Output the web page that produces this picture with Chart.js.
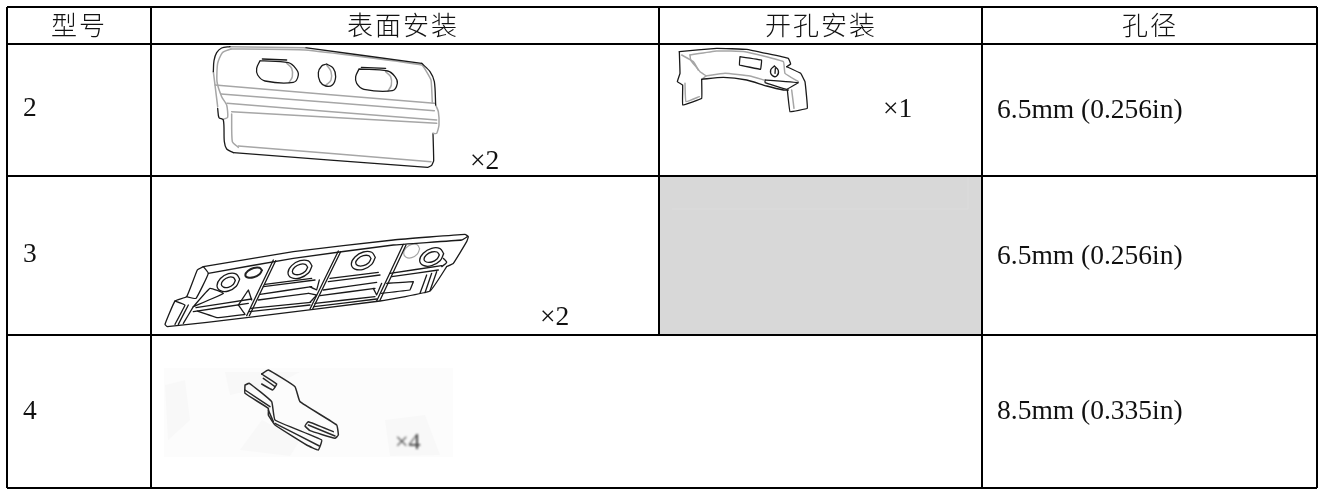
<!DOCTYPE html>
<html><head><meta charset="utf-8">
<style>html,body{margin:0;padding:0;background:#fff}canvas{display:block}</style>
<script src="https://cdn.jsdelivr.net/npm/chart.js@4/dist/chart.umd.min.js"></script>
</head><body><canvas id="c" width="1324" height="489"></canvas>
<script>
const headers = ["型号","表面安装","开孔安装","孔径"];
const models = ["2","3","4"];
const holes = ["6.5mm (0.256in)","6.5mm (0.256in)","8.5mm (0.335in)"];
const qtyLabels = ["×2","×1","×2"];
const blurQty = "×4";
const colEdges = [7,151,982,1317];
const mergedCol = 659;
const rowEdges = [7,44,176,335,488];
const greyCell = [[660,177],[981,177],[981,334],[660,334],[660,177]];
const greyGhost = [[672,209],[968,209],[968,177]];
const hazeBox = [[164,368],[453,368],[453,457],[164,457],[164,368]];
const hazeSpots = [
 [[225,372],[300,372],[275,385],[230,395],[225,372]],
 [[262,420],[300,440],[290,456],[240,450],[262,420]],
 [[385,420],[425,415],[440,455],[390,456],[385,420]],
 [[165,385],[185,380],[190,420],[168,440],[165,385]]
];
const D="#1a1a1a", G="#a6a6a6";
const DARK="dark", GREY="grey";

// part drawings, in crop units (1/3 page px) relative to an origin
const part2Origin=[205,40];
const part2=[
 [DARK,.3,[[75,20],[50,24],[35,38],[27,62],[25,95]]],
 [GREY,.1,[[75,20],[300,23]]],
 [DARK,.1,[[300,23],[650,70]]],
 [DARK,.3,[[650,70],[675,95],[688,125],[692,195]]],
 [GREY,.2,[[692,195],[700,215],[702,255],[695,280],[684,280]]],
 [DARK,.1,[[684,280],[686,362],[680,376],[668,382],[85,338]]],
 [DARK,.3,[[85,338],[65,327],[58,305],[55,240],[42,233],[38,205]]],
 [GREY,.2,[[25,95],[30,135],[38,200]]],
 [GREY,.2,[[78,27],[52,38],[38,70],[36,125],[50,170],[65,195],[68,232],[55,238]]],
 [GREY,.1,[[78,27],[300,30],[650,75],[678,120],[682,190]]],
 [GREY,.1,[[30,135],[688,190]]],
 [GREY,.1,[[48,162],[688,212]]],
 [GREY,.1,[[66,190],[695,240]]],
 [GREY,.1,[[80,215],[695,250]]],
 [GREY,.2,[[80,222],[82,305],[100,322]]],
 [GREY,.1,[[100,318],[678,365]]],
 [DARK,.35,[[165,62],[250,68],[272,85],[280,105],[265,127],[180,123],[158,105],[155,85],[165,62]]],
 [GREY,.35,[[245,70],[260,85],[262,110],[252,128]]],
 [DARK,.1,[[172,57],[245,60]]],
 [DARK,.35,[[462,87],[548,93],[570,110],[577,130],[562,152],[477,148],[455,130],[452,110],[462,87]]],
 [GREY,.35,[[542,95],[557,110],[559,135],[549,153]]],
 [DARK,.1,[[469,82],[542,85]]],
 [DARK,.45,[[365,72],[385,85],[392,110],[382,135],[362,138],[345,125],[340,98],[350,78],[365,72]]],
 [GREY,.45,[[365,75],[378,95],[378,120],[362,136]]]
];
const part1Origin=[670,40];
const part1=[
 [DARK,.05,[[28,35],[140,25],[230,28],[355,55],[362,72],[350,80]]],
 [DARK,.05,[[28,35],[30,100],[22,125],[38,135],[38,195],[95,175],[95,118]]],
 [DARK,.2,[[95,118],[160,112],[230,120],[290,138],[340,150],[355,150]]],
 [DARK,.05,[[352,150],[360,215],[412,205],[405,125],[392,100],[350,80]]],
 [GREY,.1,[[60,45],[140,33],[225,35],[340,65],[345,100],[385,125]]],
 [GREY,.1,[[60,45],[62,60],[90,95],[108,108],[95,118]]],
 [GREY,.1,[[35,45],[70,65],[85,90]]],
 [GREY,.1,[[45,130],[48,185],[88,170]]],
 [GREY,.1,[[108,108],[165,100],[240,108],[282,120]]],
 [DARK,.02,[[210,50],[275,60],[272,88],[208,75],[210,50]]],
 [DARK,.02,[[285,120],[385,128],[350,148],[285,128],[285,120]]],
 [DARK,.45,[[313,78],[325,92],[320,108],[306,106],[302,90],[313,78]]],
 [DARK,.1,[[316,85],[315,100]]],
 [GREY,.05,[[365,150],[372,205]]]
];
const part3Origin=[160,225];
const part3=[
 [DARK,.1,[[130,125],[400,80],[700,45],[915,28],[925,35],[920,50],[880,115],[860,125]]],
 [DARK,.1,[[130,125],[112,135],[80,215],[45,228],[15,298],[22,305],[260,278],[660,228],[810,198],[860,125]]],
 [DARK,.1,[[145,145],[400,100],[700,60],[905,45],[922,35]]],
 [DARK,.1,[[130,125],[145,145],[108,220],[80,215]]],
 [DARK,.05,[[45,228],[75,240],[45,298]]],
 [DARK,.05,[[85,240],[55,298]]],
 [DARK,.05,[[100,245],[70,295]]],
 [DARK,.02,[[340,105],[260,272]]],[DARK,.02,[[347,107],[268,272]]],
 [DARK,.02,[[535,78],[450,252]]],[DARK,.02,[[542,80],[458,252]]],
 [DARK,.02,[[730,58],[650,228]]],[DARK,.02,[[738,60],[660,226]]],
 [DARK,.1,[[100,245],[190,205],[150,190],[100,245]]],
 [DARK,.02,[[100,260],[265,235]]],
 [DARK,.02,[[108,248],[275,222]]],
 [DARK,.02,[[112,258],[172,278],[255,268],[235,240]]],
 [DARK,.02,[[235,240],[265,195],[275,225]]],
 [DARK,.02,[[310,185],[465,165]]],[DARK,.02,[[315,178],[455,160]]],
 [DARK,.02,[[300,208],[455,185]]],[DARK,.02,[[295,225],[445,205]]],
 [DARK,.02,[[272,250],[452,232]]],[DARK,.02,[[268,260],[450,240]]],
 [DARK,.02,[[505,170],[660,150]]],[DARK,.02,[[510,160],[655,142]]],
 [DARK,.02,[[490,195],[650,172]]],[DARK,.02,[[480,212],[645,190]]],
 [DARK,.02,[[465,235],[645,215]]],[DARK,.02,[[462,245],[650,222]]],
 [DARK,.02,[[450,185],[470,195],[478,165]]],
 [DARK,.02,[[450,232],[470,210],[445,205]]],
 [DARK,.02,[[640,190],[650,210],[665,175]]],
 [DARK,.02,[[665,205],[750,195],[760,170],[680,175]]],
 [DARK,.02,[[690,145],[845,122]]],[DARK,.02,[[695,155],[835,135]]],
 [DARK,.02,[[800,150],[780,205]]],[DARK,.02,[[815,145],[795,203]]],[DARK,.02,[[830,140],[810,197]]],
 [DARK,.2,[[850,100],[860,112],[845,125]]]
];
const part3Rings=[[205,172,34,26],[205,172,21,15],[420,133,36,26],[420,133,23,15],[610,107,36,26],[610,107,23,15],[815,96,36,26],[815,96,23,15]];
const part3Small=[[281,143,25,14],[755,78,24,20]];
const part4Origin=[160,360];
const part4=[
 [[305,42],[325,30],[405,80],[420,125],[530,195],[535,225],[525,235],[450,212],[435,198],[445,185],[520,215]],
 [[255,75],[268,70],[335,125],[345,180],[485,240],[475,270],[440,255],[345,195],[325,165],[325,145],[255,100],[255,75]],
 [[305,42],[350,72],[338,90],[305,72]],
 [[255,90],[330,140]],
 [[310,55],[345,80]],
 [[445,195],[525,228]],
 [[345,190],[478,258]],
 [[325,150],[340,185]]
];
const ringOffsets=[[1,0],[.7,.7],[0,1],[-.7,.7],[-1,0],[-.7,-.7],[0,-1],[.7,-.7],[1,0]];
const ringTilt=-.28;

const toPage=(o,pts)=>pts.map(([x,y])=>({x:o[0]+x/3,y:o[1]+y/3}));
const toXY=pts=>pts.map(([x,y])=>({x,y}));
const styles={[DARK]:{c:D,w:1.3},[GREY]:{c:G,w:1.5}};
const datasets=[];
function line(points,color,width,tension,order){
  datasets.push({data:points,showLine:true,borderColor:color,borderWidth:width,tension:tension||0,pointRadius:0,fill:false,clip:false,order:order||1,borderJoinStyle:'round',borderCapStyle:'round'});
}
function area(points,color,order){
  datasets.push({data:points,showLine:true,borderWidth:0,borderColor:'transparent',backgroundColor:color,pointRadius:0,fill:'shape',clip:false,order});
}
area(toXY(greyCell),'#d8d8d8',10);
line(toXY(greyGhost),'#dcdcdc',1,0,9);
area(toXY(hazeBox),'#fcfcfc',10);
hazeSpots.forEach(s=>area(toXY(s),'#f8f8f8',9));
line([{x:mergedCol,y:rowEdges[0]},{x:mergedCol,y:rowEdges[3]}],'#000',2,0,0);
[[part2Origin,part2],[part1Origin,part1],[part3Origin,part3]].forEach(([o,p])=>p.forEach(([k,t,pts])=>line(toPage(o,pts),styles[k].c,styles[k].w,t)));
const ringPts=([cx,cy,rx,ry])=>ringOffsets.map(([a,b])=>[cx+a*rx,cy+b*ry+a*rx*ringTilt]);
part3Rings.forEach(r=>line(toPage(part3Origin,ringPts(r)),D,1.3,.4));
line(toPage(part3Origin,ringPts(part3Small[0])),'#222',2,.4);
line(toPage(part3Origin,ringPts(part3Small[1])),G,1.2,.4);
part4.forEach(p=>line(toPage(part4Origin,p),'#2a2a2a',1.5,.1));

const SERIF='"Liberation Serif"', CJK='"Noto Sans CJK SC"';
const textPlugin={id:'cellText',afterDatasetsDraw(ch){
  const {ctx,scales:{x,y}}=ch;
  const put=(s,px,py,font,align,color,ls)=>{ctx.save();ctx.font=font;ctx.textAlign=align||'left';ctx.textBaseline='middle';ctx.fillStyle=color||'#000';ctx.letterSpacing=ls||'0px';ctx.fillText(s,x.getPixelForValue(px),y.getPixelForValue(py));ctx.restore();};
  const headX=[79,403,821,1150];
  headers.forEach((h,i)=>put(h,headX[i],25,'300 26px '+CJK,'center','#111','2px'));
  const modelY=[109,255,412], holeY=[111,257,412];
  models.forEach((m,i)=>put(m,23,modelY[i],'27.5px '+SERIF,'left','#111'));
  holes.forEach((m,i)=>put(m,997,holeY[i],'27.5px '+SERIF,'left','#111'));
  const qx=[470,883,540], qy=[162,110,318];
  qtyLabels.forEach((q,i)=>put(q,qx[i],qy[i],'27.5px '+SERIF,'left','#111'));
  ctx.save();ctx.filter='blur(1px)';put(blurQty,395,443,'24px '+SERIF,'left','#444');ctx.restore();
}};
new Chart(document.getElementById('c'),{
  type:'scatter',
  data:{datasets},
  plugins:[textPlugin],
  options:{
    responsive:false,animation:false,
    layout:{padding:{left:colEdges[0],top:rowEdges[0],right:1324-colEdges[3],bottom:489-rowEdges[4]}},
    plugins:{legend:{display:false},tooltip:{enabled:false}},
    scales:{
      x:{type:'linear',min:colEdges[0],max:colEdges[3],
        afterBuildTicks:a=>{a.ticks=colEdges.map(value=>({value}));},
        ticks:{display:false},border:{display:false},
        grid:{color:'#000',lineWidth:2,drawTicks:false,z:1}},
      y:{type:'linear',reverse:true,min:rowEdges[0],max:rowEdges[4],
        afterBuildTicks:a=>{a.ticks=rowEdges.map(value=>({value}));},
        ticks:{display:false},border:{display:false},
        grid:{color:'#000',lineWidth:2,drawTicks:false,z:1}}
    }
  }
});
</script></body></html>
